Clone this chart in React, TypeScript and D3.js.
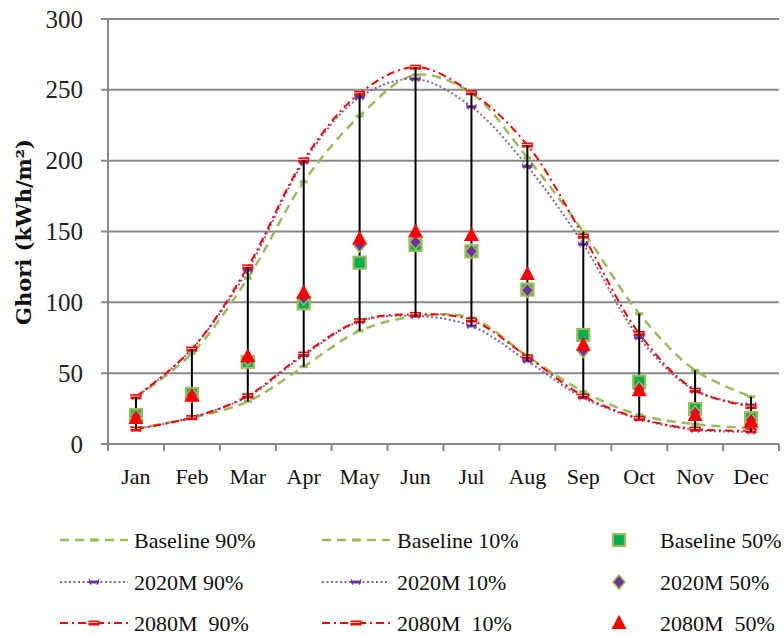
import React from "react";
import * as d3 from "d3";

const months = ["Jan", "Feb", "Mar", "Apr", "May", "Jun", "Jul", "Aug", "Sep", "Oct", "Nov", "Dec"];
const yTicks = [0, 50, 100, 150, 200, 250, 300];

const baseline90 = [33, 64, 117, 185, 231.5, 260.5, 247.5, 202, 150, 92, 52, 33.4];
const baseline10 = [11, 18.5, 30, 54.6, 79.8, 90, 89, 62, 37, 20.5, 14, 11.3];
const baseline50 = [20.5, 35.3, 58, 99.3, 128, 140.5, 136, 109, 77, 44, 24.7, 18.3];
const m2020_90 = [33, 67, 122.8, 199, 244.7, 257.6, 238, 196, 141, 75, 37.6, 27.5];
const m2020_10 = [10.6, 18.8, 33.5, 62.5, 86.5, 90.4, 83.3, 58.6, 32.7, 17.6, 9.9, 8.7];
const m2020_50 = [19.5, 34.5, 60, 103, 140.5, 142.6, 136, 108.5, 66, 39, 22, 17];
const m2080_90 = [33.4, 67, 125, 200.5, 247.5, 266, 248, 211, 146.8, 78, 38, 26.4];
const m2080_10 = [10.6, 18.6, 34, 63.5, 87, 91.5, 87.5, 61.6, 33.9, 18.1, 10.6, 9.4];
const m2080_50 = [18.4, 34, 62, 107, 145, 150, 147.5, 120, 70, 38, 20.5, 15.7];

const GREEN = "#9BBB59";
const PURPLE_LINE = "#8064A2";
const PURPLE = "#7030A0";
const RED = "#FF0000";
const SQ_FILL = "#00B050";
const FONT = "'Liberation Serif', 'Times New Roman', serif";

const W = 784;
const H = 635;
const left = 108;
const right = 779;
const top = 19;
const bottom = 444;

type Kind = "base" | "m2020" | "m2080";

function LineMarker({ kind, x, y }: { kind: Kind; x: number; y: number }) {
  if (kind === "base") {
    return <rect x={x - 4} y={y - 1.5} width={8} height={3} fill={GREEN} />;
  }
  if (kind === "m2020") {
    return (
      <g>
        <rect x={x - 5} y={y - 1.5} width={10} height={3} fill={PURPLE} />
        <path d={`M${x - 5},${y - 3}L${x - 3},${y + 3}M${x + 5},${y - 3}L${x + 3},${y + 3}`} stroke={PURPLE} strokeWidth={1} />
      </g>
    );
  }
  return (
    <g>
      <rect x={x - 5.5} y={y - 2.5} width={11} height={5} fill={RED} />
      <line x1={x - 5.5} x2={x + 4} y1={y - 0.5} y2={y - 0.5} stroke="#ffffff" strokeWidth={0.8} />
    </g>
  );
}

function Square({ x, y }: { x: number; y: number }) {
  return <rect x={x - 6} y={y - 6} width={12} height={12} fill={SQ_FILL} stroke={GREEN} strokeWidth={2.2} />;
}
function Diamond({ x, y }: { x: number; y: number }) {
  return <path d={`M${x},${y - 7}L${x + 6},${y}L${x},${y + 7}L${x - 6},${y}Z`} fill={PURPLE} stroke={GREEN} strokeWidth={1.6} />;
}
function Triangle({ x, y }: { x: number; y: number }) {
  return <path d={`M${x},${y - 8}L${x + 7.5},${y + 6}L${x - 7.5},${y + 6}Z`} fill={RED} />;
}

export default function App() {
  const x = d3.scaleBand<string>().domain(months).range([left, right]);
  const y = d3.scaleLinear().domain([0, 300]).range([bottom, top]);
  const cx = (m: string) => (x(m) as number) + x.bandwidth() / 2;

  const line = d3
    .line<number>()
    .x((_, i) => cx(months[i]))
    .y((v) => y(v))
    .curve(d3.curveCatmullRom.alpha(0.5));

  const series: { data: number[]; kind: Kind; color: string; width: number; dash: string }[] = [
    { data: baseline90, kind: "base", color: GREEN, width: 2.5, dash: "9,6" },
    { data: baseline10, kind: "base", color: GREEN, width: 2.5, dash: "9,6" },
    { data: m2020_90, kind: "m2020", color: PURPLE_LINE, width: 2, dash: "2,2.5" },
    { data: m2020_10, kind: "m2020", color: PURPLE_LINE, width: 2, dash: "2,2.5" },
    { data: m2080_90, kind: "m2080", color: RED, width: 2, dash: "8,4,2,4" },
    { data: m2080_10, kind: "m2080", color: RED, width: 2, dash: "8,4,2,4" },
  ];

  const highs = months.map((_, i) => Math.max(baseline90[i], m2020_90[i], m2080_90[i]));
  const lows = months.map((_, i) => Math.min(baseline10[i], m2020_10[i], m2080_10[i]));

  const boundaries = months.map((m) => x(m) as number).concat([right]);

  const legendRows = [540, 582, 623];
  const legendItems: { col: number; row: number; label: string; kind: Kind; type: "line" | "sq" | "di" | "tr" }[] = [
    { col: 0, row: 0, label: "Baseline 90%", kind: "base", type: "line" },
    { col: 1, row: 0, label: "Baseline 10%", kind: "base", type: "line" },
    { col: 2, row: 0, label: "Baseline 50%", kind: "base", type: "sq" },
    { col: 0, row: 1, label: "2020M 90%", kind: "m2020", type: "line" },
    { col: 1, row: 1, label: "2020M 10%", kind: "m2020", type: "line" },
    { col: 2, row: 1, label: "2020M 50%", kind: "m2020", type: "di" },
    { col: 0, row: 2, label: "2080M  90%", kind: "m2080", type: "line" },
    { col: 1, row: 2, label: "2080M  10%", kind: "m2080", type: "line" },
    { col: 2, row: 2, label: "2080M  50%", kind: "m2080", type: "tr" },
  ];
  const colLine = [
    [60, 128, 134],
    [322, 390, 397],
    [619, 619, 660],
  ];
  const styleFor = (k: Kind) => series.find((s) => s.kind === k)!;

  return (
    <svg width={W} height={H} style={{ display: "block", position: "absolute", left: 0, top: 0 }}>
      <rect width={W} height={H} fill="#ffffff" />
      {yTicks.map((t) => (
        <line key={t} x1={101} x2={right} y1={y(t)} y2={y(t)} stroke="#888888" strokeWidth={2} />
      ))}
      <line x1={left} x2={left} y1={top} y2={bottom + 7} stroke="#888888" strokeWidth={2} />
      {boundaries.map((b, i) => (
        <line key={i} x1={b} x2={b} y1={bottom} y2={bottom + 7} stroke="#888888" strokeWidth={2} />
      ))}
      {yTicks.map((t) => (
        <text key={t} x={83} y={y(t)} textAnchor="end" dominantBaseline="central" fontFamily={FONT} fontSize={25} fill="#222">
          {t}
        </text>
      ))}
      {months.map((m) => (
        <text key={m} x={cx(m)} y={476} textAnchor="middle" dominantBaseline="central" fontFamily={FONT} fontSize={22} fill="#111">
          {m}
        </text>
      ))}
      <text
        transform={`translate(23,${232}) rotate(-90)`}
        textAnchor="middle"
        dominantBaseline="central"
        fontFamily="'DejaVu Serif', serif"
        fontWeight="bold"
        fontSize={21}
        fill="#111"
      >
        Ghori (kWh/m²)
      </text>

      {series.map((s, i) => (
        <path key={i} d={line(s.data) || ""} fill="none" stroke={s.color} strokeWidth={s.width} strokeDasharray={s.dash} />
      ))}
      {series.map((s, i) => (
        <g key={i}>
          {s.data.map((v, j) => (
            <LineMarker key={j} kind={s.kind} x={cx(months[j])} y={y(v)} />
          ))}
        </g>
      ))}
      {months.map((m, i) => (
        <line key={m} x1={cx(m)} x2={cx(m)} y1={y(highs[i])} y2={y(lows[i])} stroke="#000" strokeWidth={2} />
      ))}
      {baseline50.map((v, i) => (
        <Square key={i} x={cx(months[i])} y={y(v)} />
      ))}
      {m2020_50.map((v, i) => (
        <Diamond key={i} x={cx(months[i])} y={y(v)} />
      ))}
      {m2080_50.map((v, i) => (
        <Triangle key={i} x={cx(months[i])} y={y(v)} />
      ))}

      {legendItems.map((it, i) => {
        const [x1, x2, tx] = colLine[it.col];
        const yy = legendRows[it.row];
        const st = styleFor(it.kind);
        return (
          <g key={i}>
            {it.type === "line" && (
              <g>
                <line x1={x1} x2={x2} y1={yy} y2={yy} stroke={st.color} strokeWidth={st.width} strokeDasharray={st.dash} />
                <LineMarker kind={it.kind} x={(x1 + x2) / 2} y={yy} />
              </g>
            )}
            {it.type === "sq" && <Square x={x1} y={yy} />}
            {it.type === "di" && <Diamond x={x1} y={yy} />}
            {it.type === "tr" && <Triangle x={x1} y={yy} />}
            <text x={tx} y={yy} dominantBaseline="central" fontFamily={FONT} fontSize={22} fill="#111" style={{ whiteSpace: "pre" }}>
              {it.label}
            </text>
          </g>
        );
      })}
    </svg>
  );
}
